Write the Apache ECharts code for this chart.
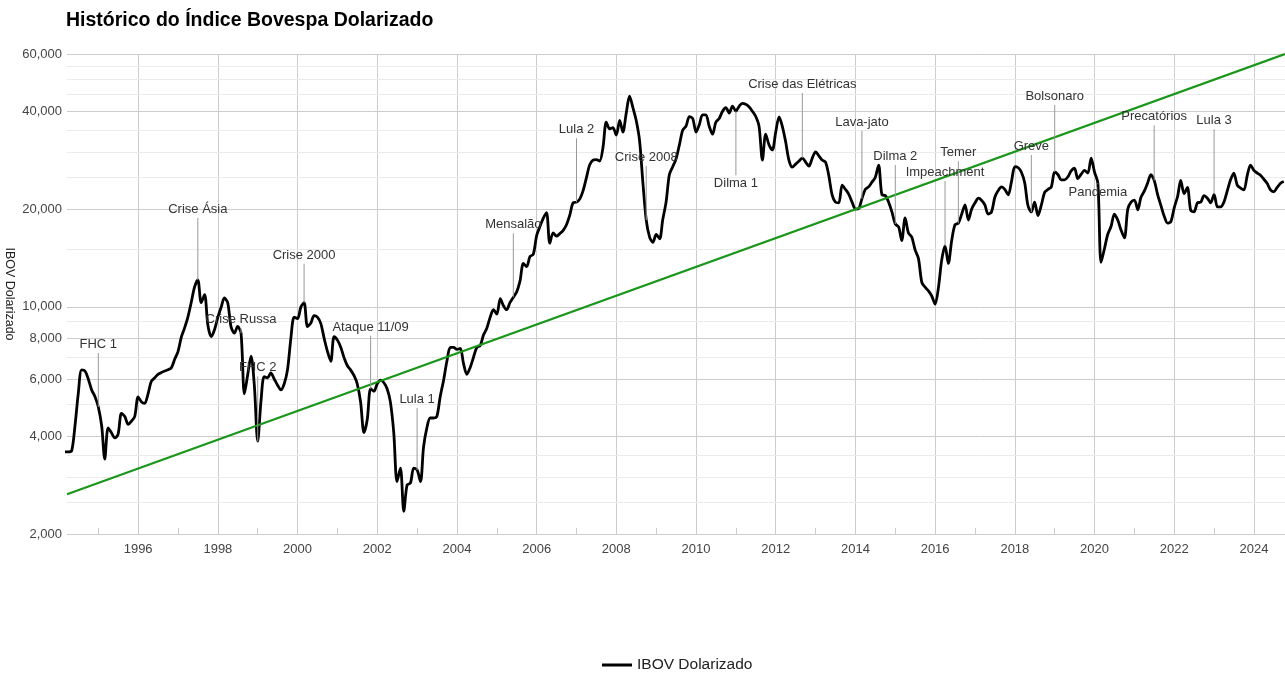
<!DOCTYPE html>
<html>
<head>
<meta charset="utf-8">
<title>Histórico do Índice Bovespa Dolarizado</title>
<script src="https://cdn.jsdelivr.net/npm/echarts@6/dist/echarts.min.js"></script>
<style>
  html, body { margin: 0; padding: 0; background: #fff; }
  #chart { width: 1285px; height: 673px; }
</style>
</head>
<body>
<div id="chart"></div>
<script>
// IBOV em dólares, valor mensal, a partir de mar/1994
const firstMonth = [1994, 3];
const ibov = [
  /* 1994 */ 3580, 3580, 3600, 4300, 5400, 6400, 6350, 6000, 5550, 5300,
  /* 1995 */ 4920, 4300, 3400, 4240, 4100, 3950, 4050, 4700, 4600, 4350, 4450, 4600,
  /* 1996 */ 5280, 5100, 5050, 5400, 5900, 6050, 6200, 6280, 6350, 6400, 6500, 6900,
  /* 1997 */ 7300, 8100, 8600, 9300, 10300, 11500, 12100, 10300, 10900, 8800, 8100, 8500,
  /* 1998 */ 9300, 10000, 10650, 10300, 8700, 8300, 8700, 8300, 5400, 6170, 7050, 5740,
  /* 1999 */ 3860, 5170, 6100, 6050, 6260, 6000, 5750, 5550, 5800, 6400, 8000, 9300,
  /* 2000 */ 9200, 10000, 10300, 8700, 8900, 9400, 9300, 8900, 8000, 7300, 6800, 8100,
  /* 2001 */ 7900, 7500, 7000, 6600, 6400, 6150, 5800, 5100, 4100, 4500, 5600, 5500,
  /* 2002 */ 5800, 5950, 5850, 5600, 5100, 4100, 2900, 3190, 2350, 2830, 2870, 3190,
  /* 2003 */ 3150, 2900, 3700, 4250, 4550, 4550, 4600, 5300, 5950, 6800, 7500, 7500,
  /* 2004 */ 7400, 7450, 6700, 6200, 6500, 7000, 7500, 7600, 8200, 8600, 9300, 9800,
  /* 2005 */ 9500, 10600, 10100, 9800, 10300, 10700, 11100, 12000, 13600, 13300, 14300, 14500,
  /* 2006 */ 16600, 17700, 18700, 19500, 15700, 16900, 16500, 16800, 17200, 17900, 19200, 20900,
  /* 2007 */ 21000, 21500, 22700, 24900, 27300, 28300, 28400, 28100, 31000, 37000, 35300, 35600,
  /* 2008 */ 33800, 37500, 34500, 39500, 44500, 41000, 37500, 32500, 24000, 18500, 16400, 15800,
  /* 2009 */ 16700, 16200, 18500, 21000, 25500, 27000, 28500, 31500, 35000, 36000, 38500, 38000,
  /* 2010 */ 34500, 36500, 39000, 39000, 36000, 34000, 37000, 38000, 40000, 41000, 39500, 41500,
  /* 2011 */ 40000, 41500, 42300, 42000, 41300, 40000, 38600, 36000, 28300, 34000, 31500, 30400,
  /* 2012 */ 34500, 38400, 36000, 32200, 28300, 26900, 27500, 28100, 28700, 27900, 27100, 28700,
  /* 2013 */ 30000, 29100, 28300, 27900, 25400, 22100, 21000, 20900, 23700, 23000, 22200, 21000,
  /* 2014 */ 20000, 20100, 21500, 23000, 23400, 24200, 25000, 27300, 22100, 22000, 21000, 19600,
  /* 2015 */ 18000, 17600, 16000, 18800, 16900, 16400, 15000, 14100, 11900, 11500, 11200, 10800,
  /* 2016 */ 10200, 11500, 13900, 15400, 13600, 16000, 17900, 18100, 19300, 20600, 18500, 20000,
  /* 2017 */ 20900, 21600, 21300, 20600, 19300, 19600, 21700, 22800, 23400, 23000, 22100, 24300,
  /* 2018 */ 27000, 26800, 26000, 24100, 20500, 19600, 21000, 19100, 20600, 22500, 23000, 23400,
  /* 2019 */ 26000, 25500, 24600, 24600, 25100, 26200, 26700, 24800, 25600, 26300, 25800, 28700,
  /* 2020 */ 26000, 24000, 13700, 15100, 16700, 17700, 19300, 18500, 17200, 16300, 20000, 21000,
  /* 2021 */ 21300, 19900, 21700, 22700, 24000, 25500, 24500, 22200, 20500, 19000, 18100, 18300,
  /* 2022 */ 20200, 21900, 24500, 22300, 23300, 19800, 19600, 20900, 21000, 22000, 21600, 20900,
  /* 2023 */ 22200, 20300, 20300, 21000, 22700, 24600, 25800, 23700, 23200, 22900, 25400, 27300,
  /* 2024 */ 26300, 25800, 25400, 24700, 24000, 22900, 22600, 23300, 24000, 24300
];

// linha de tendência (exponencial) - extremos
const trendDates = ['1994-03-20', '2024-10-12'];
const trendValues = [2650, 60000];

// eventos anotados
const annoNames = ['FHC 1', 'Crise Ásia', 'Crise Russa', 'FHC 2', 'Crise 2000', 'Ataque 11/09', 'Lula 1',
  'Mensalão', 'Lula 2', 'Crise 2008', 'Dilma 1', 'Crise das Elétricas', 'Lava-jato', 'Dilma 2',
  'Impeachment', 'Temer', 'Greve', 'Bolsonaro', 'Pandemia', 'Precatórios', 'Lula 3'];
const annoDates = ['1995-01', '1997-07', '1998-08', '1999-01', '2000-03', '2001-11', '2003-01',
  '2005-06', '2007-01', '2008-10', '2011-01', '2012-09', '2014-03', '2015-01',
  '2016-04', '2016-08', '2018-06', '2019-01', '2020-02', '2021-07', '2023-01'];

// eixos
const yearLabels = ['1996', '1998', '2000', '2002', '2004', '2006', '2008', '2010', '2012', '2014', '2016', '2018', '2020', '2022', '2024'];
const oddYears = ['1995', '1997', '1999', '2001', '2003', '2005', '2007', '2009', '2011', '2013', '2015', '2017', '2019', '2021', '2023'];
const yTicks = [2000, 4000, 6000, 8000, 10000, 20000, 40000, 60000];
const yMinorTicks = [2500, 3000, 3500, 5000, 7000, 9000, 15000, 25000, 30000, 35000, 45000, 50000, 55000];

// comprimento das hastes das anotações (px, negativo = rótulo abaixo)
const annoStems = [54, 62, 5, 65, 39, 53, 62, 64, 64, 54, -64, 65, 68, 59, 65, 62, 57, 67, -1, 55, 65];

const font = "'Liberation Sans', Arial, sans-serif";

function ts(s) {
  const p = s.split('-').map(Number);
  return new Date(p[0], (p[1] || 1) - 1, p[2] || 1).getTime();
}

const dates = [];
for (let i = 0; i < ibov.length; i++) {
  const m = firstMonth[1] - 1 + i;
  const y = firstMonth[0] + Math.floor(m / 12);
  dates.push(y + '-' + String(m % 12 + 1).padStart(2, '0'));
}
const serie = dates.map((d, i) => [ts(d), ibov[i]]);

const annotations = annoNames.map((name, i) => {
  const idx = dates.indexOf(annoDates[i]);
  const len = annoStems[i];
  const up = len >= 0;
  const L = Math.max(Math.abs(len), 1);
  return {
    name: name,
    coord: [ts(annoDates[i]), ibov[idx]],
    symbol: 'rect',
    symbolSize: [1, L],
    symbolOffset: [0, up ? -L / 2 : L / 2],
    label: { position: up ? 'top' : 'bottom' }
  };
});

const gridLines = yTicks.map(v => ({
  yAxis: v,
  lineStyle: { color: '#cccccc', width: 1, type: 'solid' },
  label: { show: true, position: 'start', distance: 5, color: '#444', fontSize: 13, fontFamily: font,
    formatter: p => echarts.format.addCommas(p.value) }
})).concat(yMinorTicks.map(v => ({
  yAxis: v,
  lineStyle: { color: '#ebebeb', width: 1, type: 'solid' },
  label: { show: false }
})));

const xMin = ts(trendDates[0]);
const xMax = ts(trendDates[1]);

let mychart = echarts.init(document.getElementById('chart'));
let option = {
  animation: false,
  textStyle: { fontFamily: font },
  title: {
    text: 'Histórico do Índice Bovespa Dolarizado',
    left: 66,
    top: 11,
    padding: 0,
    textStyle: { fontSize: 19.5, fontWeight: 'bold', color: '#000', fontFamily: font }
  },
  legend: {
    data: [{ name: 'IBOV Dolarizado', icon: 'rect' }],
    left: 597,
    top: 652,
    itemWidth: 30,
    itemHeight: 3,
    textStyle: { fontSize: 15.5, color: '#222', fontFamily: font }
  },
  grid: { left: 67, right: 0, top: 54, bottom: 139, outerBoundsMode: 'none' },
  xAxis: [{
    type: 'value',
    min: xMin,
    max: xMax,
    axisLine: { show: false },
    axisTick: { show: false, customValues: yearLabels.map(y => ts(y)) },
    axisLabel: {
      customValues: yearLabels.map(y => ts(y)),
      formatter: v => String(new Date(v).getFullYear()),
      color: '#444', fontSize: 13, margin: 9, fontFamily: font
    },
    splitLine: { show: true, lineStyle: { color: '#cccccc', width: 1 } }
  }, {
    type: 'value',
    min: xMin,
    max: xMax,
    position: 'bottom',
    axisLine: { show: false },
    axisTick: { show: true, inside: true, length: 6, lineStyle: { color: '#cccccc' },
      customValues: oddYears.map(y => ts(y)) },
    axisLabel: { show: false },
    splitLine: { show: false }
  }],
  yAxis: {
    type: 'log',
    logBase: 10,
    min: 2000,
    max: 60000,
    name: 'IBOV Dolarizado',
    nameLocation: 'middle',
    nameRotate: -90,
    nameGap: 51,
    nameTextStyle: { fontSize: 12.5, color: '#222', fontFamily: font },
    axisLine: { show: false },
    axisTick: { show: false },
    axisLabel: { show: false },
    splitLine: { show: false }
  },
  series: [{
    name: 'IBOV Dolarizado',
    type: 'line',
    data: serie,
    showSymbol: false,
    smooth: 0.3,
    lineStyle: { color: '#000', width: 2.8 },
    itemStyle: { color: '#000' },
    z: 3,
    markPoint: {
      silent: true,
      animation: false,
      itemStyle: { color: '#999' },
      label: { show: true, formatter: '{b}', color: '#333', fontSize: 13, distance: 2, fontFamily: font },
      data: annotations
    }
  }, {
    name: 'Tendência',
    type: 'line',
    data: trendDates.map((d, i) => [ts(d), trendValues[i]]),
    showSymbol: false,
    lineStyle: { color: '#1a961a', width: 2.2 },
    itemStyle: { color: '#1a961a' },
    z: 4,
    markLine: {
      silent: true,
      animation: false,
      symbol: 'none',
      z: 0,
      emphasis: { disabled: true },
      data: gridLines
    }
  }]
};

mychart.setOption(option);
</script>
</body>
</html>
